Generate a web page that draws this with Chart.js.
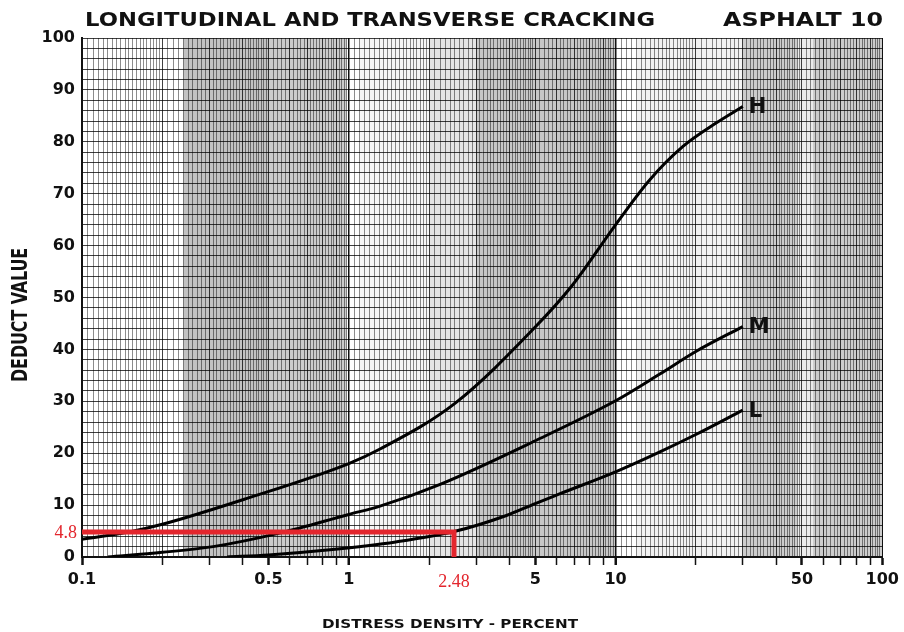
<!DOCTYPE html>
<html>
<head>
<meta charset="utf-8">
<script src="https://cdn.jsdelivr.net/npm/chart.js@4.4.1/dist/chart.umd.min.js"></script>
<style>
  body { margin: 0; background: #fff; }
  canvas { display: block; }
</style>
</head>
<body>
<canvas id="deduct" width="904" height="632"></canvas>
<script>
// curve readings (distress density %, deduct value)
var highX = [0.1, 0.15, 0.2, 0.41, 1, 1.31, 2.5, 5, 6.9, 10, 13.4, 17.9, 23.8, 30];
var highY = [3.4, 4.8, 6.3, 11.2, 18.0, 20.8, 29.6, 44.3, 52.4, 64, 72.6, 79.1, 83.6, 86.8];
var medX = [0.125, 0.2, 0.31, 0.55, 1, 1.31, 2.2, 5, 10, 14.6, 20, 30];
var medY = [0, 0.9, 2.0, 4.6, 8.2, 9.8, 14.0, 22.4, 30.1, 35.2, 39.6, 44.4];
var lowX = [0.35, 0.5, 0.85, 1.5, 2.48, 3.9, 5, 6.2, 10, 14.6, 20, 30];
var lowY = [0, 0.4, 1.4, 2.9, 4.9, 8.0, 10.3, 12.2, 16.4, 20.2, 23.6, 28.3];

// worked example in red
var exampleDensity = 2.48;
var exampleDeduct = 4.8;

var xTickLabels = [0.1, 0.5, 1, 5, 10, 50, 100];
var yTickLabels = [0, 10, 20, 30, 40, 50, 60, 70, 80, 90, 100];

// grey photocopy bands on the paper [from, to, darkness]
var paperBands = [
    [0.24, 0.5, 0.24], [0.5, 0.98, 0.2], [1.1, 2.0, 0.04], [2.0, 3.0, 0.1],
    [3.0, 10, 0.22], [12, 30, 0.05], [30, 48, 0.2], [48, 55, 0.08], [55, 100, 0.2]
];

function pts(xs, ys) {
    return xs.map(function (x, i) { return { x: x, y: ys[i] }; });
}

// log paper rulings: finer steps at the low end of each decade
function paperRulings() {
    var out = [];
    [0.1, 1, 10].forEach(function (d) {
        var m;
        for (m = 1; m < 2 - 1e-9; m += 0.05) out.push(m * d);
        for (m = 2; m < 5 - 1e-9; m += 0.1) out.push(m * d);
        for (m = 5; m < 10 - 1e-9; m += 0.2) out.push(m * d);
    });
    out.push(100);
    return out.map(function (v) { return Math.round(v * 1e6) / 1e6; });
}

function mantissa(v) {
    return v / Math.pow(10, Math.floor(Math.log10(v) + 1e-9));
}
function isWhole(v) {
    var m = mantissa(v);
    return Math.abs(m - Math.round(m)) < 1e-6;
}

function fitText(ctx, text, left, right, cy, font, color) {
    ctx.save();
    ctx.font = font;
    ctx.fillStyle = color;
    ctx.textBaseline = 'middle';
    ctx.textAlign = 'left';
    var w = ctx.measureText(text).width;
    ctx.translate(left, cy);
    ctx.scale((right - left) / w, 1);
    ctx.fillText(text, 0, 0);
    ctx.restore();
}

var paperPlugin = {
    id: 'paper',
    beforeDraw: function (chart) {
        var c = chart.ctx;
        var a = chart.chartArea, xs = chart.scales.x;
        c.save();
        c.fillStyle = '#fff';
        c.fillRect(0, 0, chart.width, chart.height);
        paperBands.forEach(function (b) {
            var x0 = xs.getPixelForValue(b[0]), x1 = xs.getPixelForValue(b[1]);
            c.fillStyle = 'rgba(0,0,0,' + b[2] + ')';
            c.fillRect(x0, a.top, x1 - x0, a.bottom - a.top);
        });
        c.restore();
    },
    afterDraw: function (chart) {
        var c = chart.ctx;
        var xs = chart.scales.x, ys = chart.scales.y;
        fitText(c, 'LONGITUDINAL AND TRANSVERSE CRACKING', 85, 655, 21, 'bold 19px "DejaVu Sans"', '#111');
        fitText(c, 'ASPHALT 10', 723, 883, 21, 'bold 19px "DejaVu Sans"', '#111');
        fitText(c, 'DISTRESS DENSITY - PERCENT', 322, 578, 625, 'bold 12px "DejaVu Sans"', '#111');

        c.save();
        c.translate(22, 315);
        c.rotate(-Math.PI / 2);
        fitText(c, 'DEDUCT VALUE', -67, 67, 0, 'bold 21px "DejaVu Sans Condensed"', '#111');
        c.restore();

        // curve labels at the line ends
        var ends = [['H', highX, highY], ['M', medX, medY], ['L', lowX, lowY]];
        c.save();
        c.font = 'bold 21px "DejaVu Sans"';
        c.fillStyle = '#111';
        c.textBaseline = 'middle';
        ends.forEach(function (e) {
            var n = e[1].length - 1;
            c.fillText(e[0], xs.getPixelForValue(e[1][n]) + 6, ys.getPixelForValue(e[2][n]) + 1);
        });
        c.restore();

        c.save();
        c.fillStyle = '#e3262d';
        c.font = '18px "Liberation Serif"';
        c.textBaseline = 'middle';
        c.textAlign = 'right';
        c.fillText(String(exampleDeduct), 77, ys.getPixelForValue(exampleDeduct) + 1);
        c.textAlign = 'center';
        c.fillText(String(exampleDensity), xs.getPixelForValue(exampleDensity), 582);
        c.restore();
    }
};

var ctx = document.getElementById('deduct').getContext('2d');

var chart = new Chart(ctx, {
    type: 'line',
    data: {
        datasets: [
            {
                label: 'example',
                data: [{ x: 0.1, y: exampleDeduct }, { x: exampleDensity, y: exampleDeduct }, { x: exampleDensity, y: 0 }],
                borderColor: '#e3262d',
                borderWidth: 5,
                tension: 0,
                pointRadius: 0,
                order: 0
            },
            { label: 'H', data: pts(highX, highY), borderColor: '#000', borderWidth: 3, pointRadius: 0, cubicInterpolationMode: 'monotone', order: 1 },
            { label: 'M', data: pts(medX, medY), borderColor: '#000', borderWidth: 3, pointRadius: 0, cubicInterpolationMode: 'monotone', order: 1 },
            { label: 'L', data: pts(lowX, lowY), borderColor: '#000', borderWidth: 3, pointRadius: 0, cubicInterpolationMode: 'monotone', order: 1 }
        ]
    },
    plugins: [paperPlugin],
    options: {
        responsive: false,
        animation: false,
        layout: { padding: { top: 38, right: 21, left: 0, bottom: 0 } },
        plugins: {
            legend: { display: false },
            tooltip: { enabled: false },
            title: { display: false }
        },
        scales: {
            x: {
                type: 'logarithmic',
                min: 0.1,
                max: 100,
                afterBuildTicks: function (scale) {
                    scale.ticks = paperRulings().map(function (v) { return { value: v }; });
                },
                afterFit: function (scale) { scale.height = 75; },
                ticks: {
                    autoSkip: false,
                    maxRotation: 0,
                    padding: 5,
                    color: '#111',
                    font: { family: 'DejaVu Sans', weight: 'bold', size: 16 },
                    callback: function (v) {
                        return xTickLabels.indexOf(v) >= 0 ? String(v) : '';
                    }
                },
                grid: {
                    tickLength: 8,
                    color: function (c) {
                        var v = c.tick.value;
                        if (v === 1 || v === 10 || v === 100 || v === 0.1) return '#111';
                        return isWhole(v) ? 'rgba(0,0,0,0.75)' : 'rgba(0,0,0,0.45)';
                    },
                    lineWidth: function (c) {
                        var v = c.tick.value;
                        return (v === 1 || v === 10) ? 1.5 : 1;
                    },
                    tickColor: function (c) {
                        return isWhole(c.tick.value) ? '#111' : 'rgba(0,0,0,0)';
                    },
                    tickWidth: function (c) {
                        return mantissa(c.tick.value) === 5 || mantissa(c.tick.value) === 1 ? 2.5 : 1.5;
                    }
                },
                border: { color: '#111', width: 2 }
            },
            y: {
                type: 'linear',
                min: 0,
                max: 100,
                afterFit: function (scale) { scale.width = 82; },
                ticks: {
                    stepSize: 2,
                    autoSkip: false,
                    padding: 7,
                    color: '#111',
                    font: { family: 'DejaVu Sans', weight: 'bold', size: 16 },
                    callback: function (v) {
                        return yTickLabels.indexOf(v) >= 0 ? String(v) : '';
                    }
                },
                grid: {
                    drawTicks: false,
                    color: 'rgba(0,0,0,0.75)',
                    lineWidth: 1
                },
                border: { color: '#111', width: 2 }
            }
        }
    }
});
</script>
</body>
</html>
